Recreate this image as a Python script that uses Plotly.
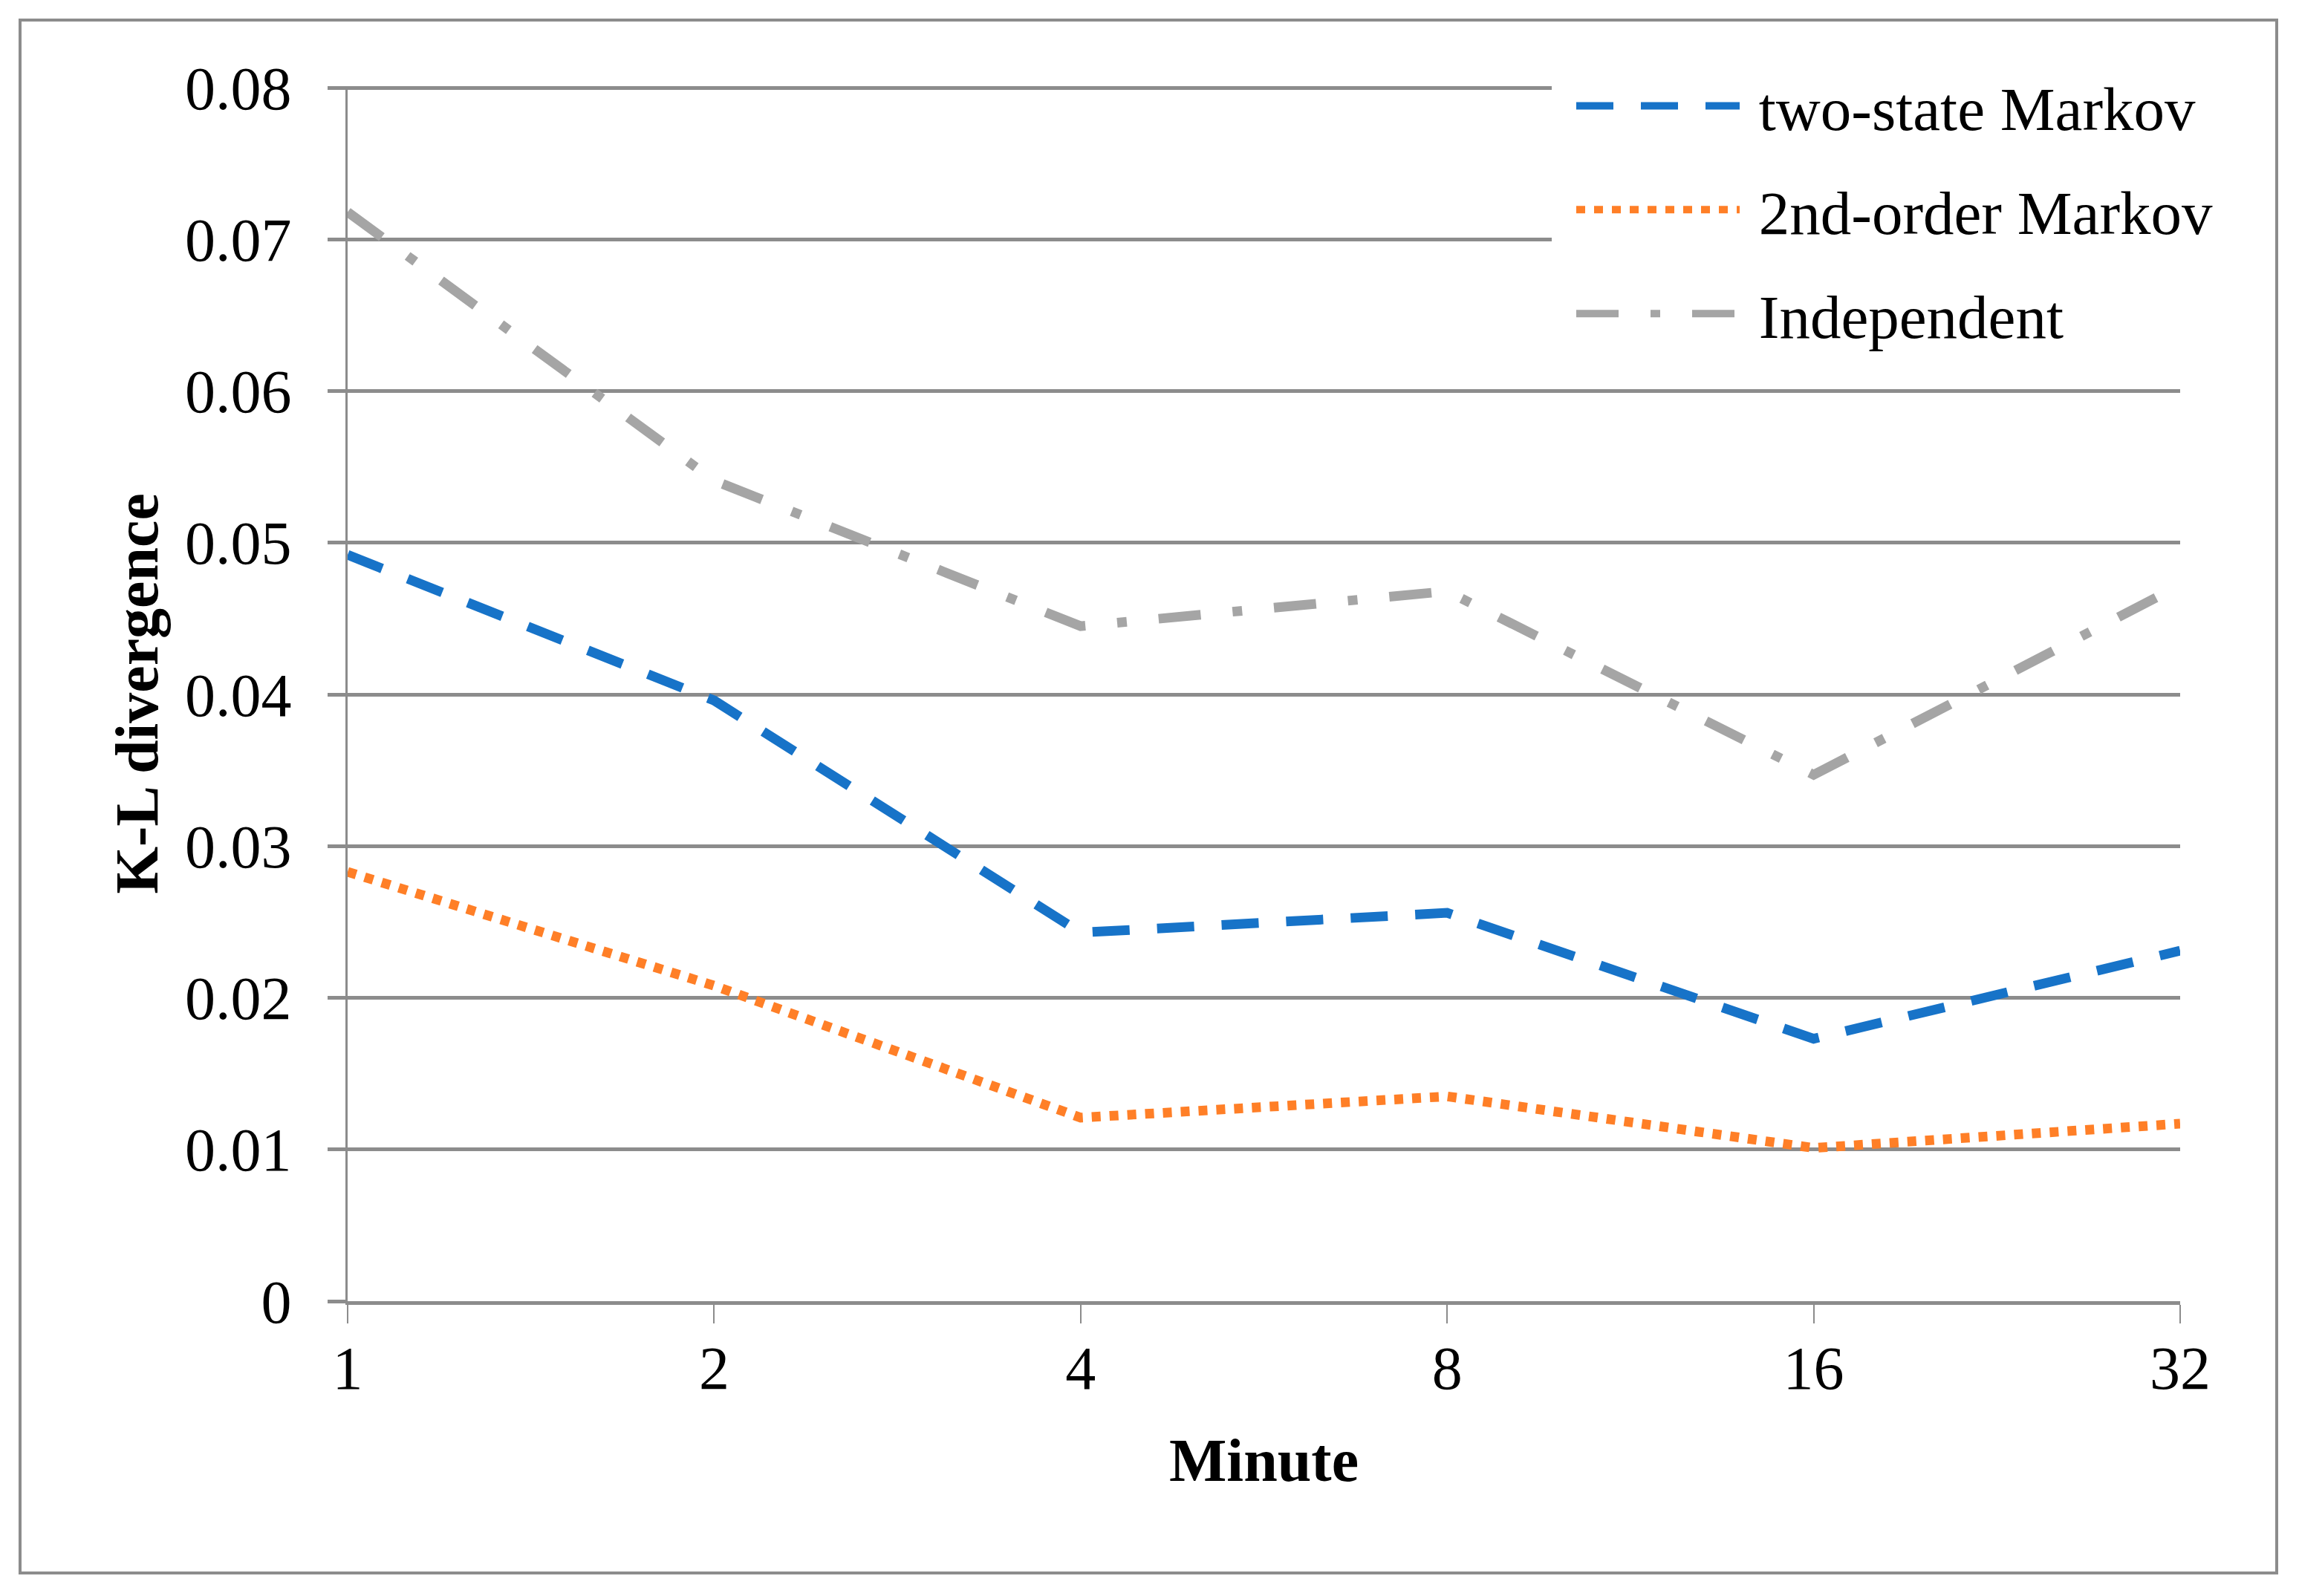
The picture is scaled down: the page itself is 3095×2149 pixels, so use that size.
import plotly.graph_objects as go

minutes = [1, 2, 4, 8, 16, 32]
tick_labels = ["1", "2", "4", "8", "16", "32"]
two_state = [0.0492, 0.0396, 0.0243, 0.0256, 0.0173, 0.0231]
second_order = [0.0283, 0.0208, 0.0121, 0.0135, 0.0101, 0.0117]
independent = [0.0718, 0.0541, 0.0445, 0.0468, 0.0347, 0.0472]
series_names = ["two-state Markov", "2nd-order Markov", "Independent"]

W, H = 3095, 2149
OFF = 8  # page body margin
# plot area in reference pixel coordinates
X0, X1 = 468, 2935
Y0 = 1752          # y = 0
YTOP = 116         # y = 0.0801
L = X0 - OFF
T = YTOP - OFF
R = W - X1 + OFF
B = H - Y0 + OFF
pw, ph = X1 - X0, Y0 - YTOP
FONT = "Liberation Serif"
GRID = "#8c8c8c"
NB = "\u00a0"

def px_x(p):
    return (p - X0) / pw

def px_y(p):
    return (Y0 - p) / ph

fig = go.Figure()
fig.add_trace(go.Scatter(x=minutes, y=two_state, name=NB + series_names[0], mode="lines",
                         legendgroup="a",
                         line=dict(color="#1773c8", width=13, dash="50px,37px")))
fig.add_trace(go.Scatter(x=minutes, y=second_order, name=NB + series_names[1], mode="lines",
                         legendgroup="b",
                         line=dict(color="#ff7f27", width=13, dash="12px,12px")))
fig.add_trace(go.Scatter(x=minutes, y=independent, name=NB + series_names[2], mode="lines",
                         legendgroup="c",
                         line=dict(color="#a5a5a5", width=13, dash="57px,43px,13px,43px")))

fig.update_layout(
    width=W, height=H,
    margin=dict(l=L, r=R, t=T, b=B),
    paper_bgcolor="white", plot_bgcolor="white",
    font=dict(family=FONT, size=82, color="black"),
    showlegend=True,
    legend=dict(x=px_x(2089), y=px_y(54), xanchor="left", yanchor="top",
                bgcolor="white", bordercolor="white", borderwidth=28,
                font=dict(family=FONT, size=83),
                itemwidth=220, tracegroupgap=29),
    xaxis=dict(type="log", range=[0, 1.50515], tickvals=minutes, ticktext=tick_labels,
               showgrid=False, zeroline=False, showline=True, linecolor=GRID, linewidth=5,
               ticks="outside", ticklen=25, tickwidth=2, tickcolor=GRID,
               ticklabelstandoff=-10,
               tickfont=dict(family=FONT, size=82),
               title=dict(text="Minute", font=dict(family=FONT, size=82, weight="bold"), standoff=51)),
    yaxis=dict(range=[0, 0.0801], tickvals=[0, 0.01, 0.02, 0.03, 0.04, 0.05, 0.06, 0.07, 0.08],
               ticktext=["0", "0.01", "0.02", "0.03", "0.04", "0.05", "0.06", "0.07", "0.08"],
               showgrid=True, gridcolor=GRID, gridwidth=5,
               zeroline=False, showline=True, linecolor=GRID, linewidth=3,
               ticks="outside", ticklen=24, tickwidth=5, tickcolor=GRID,
               ticklabelstandoff=32,
               tickfont=dict(family=FONT, size=82),
               title=dict(text="K-L divergence", font=dict(family=FONT, size=82, weight="bold"), standoff=10)),
    shapes=[dict(type="rect", xref="paper", yref="paper",
                 x0=px_x(27), x1=px_x(3065), y0=px_y(2118), y1=px_y(27),
                 line=dict(color=GRID, width=4), fillcolor="rgba(0,0,0,0)", layer="below")],
)

fig.write_html("out.html")
